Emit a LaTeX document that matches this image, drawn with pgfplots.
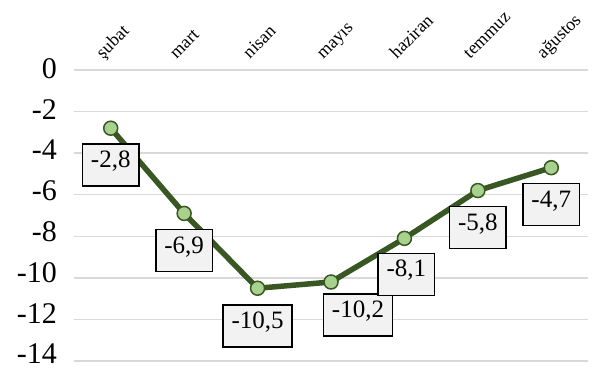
\documentclass[border=0pt]{standalone}
\usepackage{fontspec}
\setmainfont{Liberation Serif}
\usepackage{pgfplots}
\usepackage{pgfplotstable}
\pgfplotsset{compat=1.18}
\definecolor{linegreen}{RGB}{56,87,35}
\definecolor{markgreen}{RGB}{169,209,142}
\definecolor{gridgray}{RGB}{217,217,217}
\definecolor{boxgray}{RGB}{242,242,242}
\pgfplotstableread{
x y dx dy
0 -2.8 0 -37
1 -6.9 0 -37
2 -10.5 0 -38
3 -10.2 27 -33
4 -8.1 2 -36
5 -5.8 0 -37
6 -4.7 0 -37
}\datatable
\begin{document}
\begin{tikzpicture}
\begin{axis}[
  scale only axis,
  width=514pt, height=291pt,
  xmin=-0.5, xmax=6.5,
  ymin=-14, ymax=0,
  axis line style={draw=none},
  xtick=data,
  xticklabel pos=upper,
  xticklabels={şubat,mart,nisan,mayıs,haziran,temmuz,ağustos},
  every x tick label/.append style={rotate=45, anchor=base west, inner sep=0pt, yshift=13pt, xshift=2pt, font=\fontsize{18}{20}\selectfont},
  x tick style={draw=none},
  ytick={0,-2,-4,-6,-8,-10,-12,-14},
  y tick style={draw=none},
  yticklabel style={font=\fontsize{30}{33}\selectfont, inner sep=0pt, xshift=-17pt, yshift={(1.5-0.4*\tick)*1pt}},
  ymajorgrids,
  major grid style={draw=gridgray, line width=1.5pt},
  /pgf/number format/assume math mode=true,
  /pgf/number format/use comma,
  clip=false,
]
\addplot[
  color=linegreen, line width=5.5pt,
  mark=*, mark size=7pt,
  mark options={fill=markgreen, draw=linegreen, line width=1.5pt},
  visualization depends on={\thisrow{dx}\as\dx},
  visualization depends on={\thisrow{dy}\as\dy},
  nodes near coords={\pgfmathprintnumber[fixed,precision=1,fixed zerofill,use comma,assume math mode=true]{\pgfplotspointmeta}},
  nodes near coords style={anchor=center, xshift=\dx pt, yshift=\dy pt,
    draw=black, line width=1.5pt, fill=boxgray, text=black,
    font=\fontsize{25}{28}\selectfont, inner xsep=8.5pt, inner ysep=0pt,
    text height=0.72em, text depth=0.2em, minimum height=42pt},
  point meta=explicit,
] table[x=x, y=y, meta=y] {\datatable};
\end{axis}
\pgfresetboundingbox
\path ([shift={(-74pt,-8pt)}]current axis.south west) rectangle ([shift={(23pt,70pt)}]current axis.north east);
\end{tikzpicture}
\end{document}
